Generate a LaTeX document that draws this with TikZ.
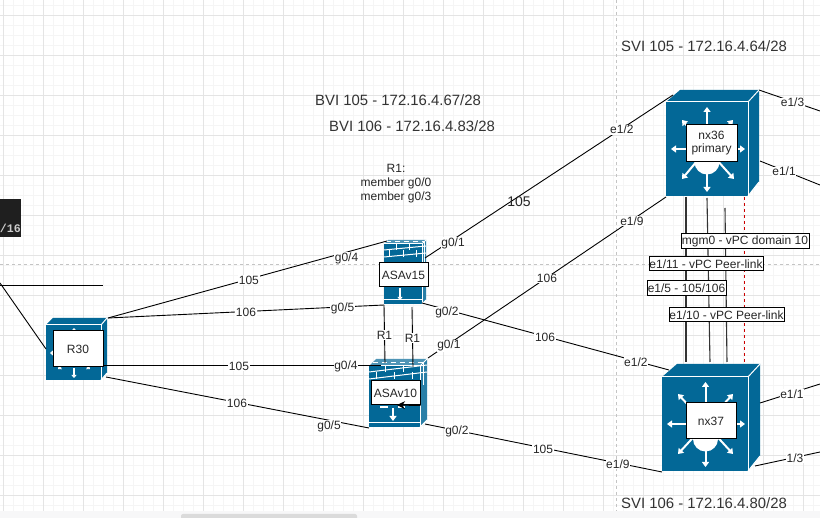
\documentclass[tikz,border=0pt]{standalone}
\usepackage{fontspec}
\setmainfont{Liberation Sans}
\newfontfamily\termfont{Liberation Mono}
\usetikzlibrary{arrows.meta}
\definecolor{iconblue}{HTML}{036897}
\definecolor{gridmajor}{HTML}{E4E4E4}
\definecolor{gridminor}{HTML}{F5F5F5}
\definecolor{pageline}{HTML}{C4C4C4}
\tikzset{
  wire/.style={draw=black, line width=.9pt},
  hitbox/.style={rectangle, inner sep=0pt, outer sep=0pt},
  namebox/.style={rectangle, draw=black, fill=white, line width=1pt, inner sep=0pt, align=center, font=\fontsize{12}{14}\selectfont, text=black!85},
  portlabel/.style={fill=white, inner sep=.6pt, yshift=-1pt, font=\fontsize{12}{13}\selectfont, text=black!85},
  plaintext/.style={inner sep=0pt, align=center, font=\fontsize{12}{14}\selectfont, text=black!85},
  title/.style={inner sep=0pt, anchor=west, font=\fontsize{14.9}{16}\selectfont, text=black!80},
  flow/.style={draw=white, line width=2pt, -{Triangle[length=5pt,width=7pt]}},
  smallflow/.style={draw=white, line width=1.2pt, -{Triangle[length=3pt,width=5pt]}},
  mortar/.style={draw=white, line width=1pt},
}
% x1 y1 x2 y2 dx dy, front face and its depth
\newcommand{\cubeicon}[6]{
  \fill[iconblue] (#1,#2) rectangle (#3,#4);
  \fill[iconblue] (#1,#2) -- (#1+#5,#2-#6) -- (#3+#6-1,#2-#6) -- (#3,#2) -- cycle;
  \fill[iconblue] (#3,#2) -- (#3+#6-1,#2-#6) -- (#3+#6-1,#4-#6-#5+#6) -- (#3,#4) -- cycle;
  \draw[mortar] (#1,#2) -- (#3,#2) -- (#3,#4);
  \draw[mortar] (#3,#2) -- (#3+#6-1,#2-#6);
  \draw[mortar] (#3,#4) -- (#3+#6-1,#4-#6-#5+#6);
}
% x1 x2 ytop ybottom depth
\newcommand{\wallicon}[5]{
  \fill[iconblue] (#1,#3) rectangle (#2,#4);
  \fill[iconblue!70] (#1,#3) -- (#1+#5,#3-#5) -- (#2+#5,#3-#5) -- (#2,#3) -- cycle;
  \fill[iconblue!85] (#2,#3) -- (#2+#5,#3-#5) -- (#2+#5,#4-#5) -- (#2,#4) -- cycle;
  \draw[mortar] (#1,#3) -- (#2,#3) -- (#2,#4);
  \draw[mortar] (#2,#3) -- (#2+#5,#3-#5);
  \draw[mortar] (#2,#4) -- (#2+#5,#4-#5);
  \draw[mortar] (#1,#3+6) -- (#2+#5,#3+6-#5);
  \draw[mortar] (#1,#3+13) -- (#2+#5,#3+13-#5);
  \draw[mortar] (#1,#4-4) -- (#2,#4-4);
  \draw[mortar, dashed, dash pattern=on 5pt off 4pt] (#1+.5*#5,#3-.5*#5) -- (#2+.5*#5,#3-.5*#5);
  \foreach \f in {.33,.68} \draw[mortar] ({#1+\f*(#2-#1)},#3) -- ({#1+\f*(#2-#1)},#3+6);
  \foreach \f in {.15,.5,.85} \draw[mortar] ({#1+\f*(#2-#1)},#3+6) -- ({#1+\f*(#2-#1)},#3+13);
  \draw[draw=white, line width=.8pt] (#2+.5*#5,#3-.5*#5) -- (#2+.5*#5,#3+19);
}
\begin{document}
\begin{tikzpicture}[x=1pt,y=-1pt]
\useasboundingbox (0,0) rectangle (820,518);
% grid
\fill[white] (0,0) rectangle (820,518);
\foreach \gx in {3,13,...,813} \draw[gridminor, line width=1pt] (\gx.5,0) -- (\gx.5,511);
\foreach \gy in {5,15,...,505} \draw[gridminor, line width=1pt] (0,\gy.5) -- (820,\gy.5);
\foreach \gx in {3,43,...,803} \draw[gridmajor, line width=1pt] (\gx.5,0) -- (\gx.5,511);
\foreach \gy in {15,55,...,495} \draw[gridmajor, line width=1pt] (0,\gy.5) -- (820,\gy.5);
\draw[pageline, dashed, line width=.8pt] (616.5,0) -- (616.5,511);
\draw[pageline, dashed, line width=.8pt] (0,264.5) -- (820,264.5);
\fill[blue!2!gray!6] (0,511) rectangle (820,518);
\fill[black!14, rounded corners=2pt] (181,514) rectangle (357,520);
\fill[black!88] (0,199) rectangle (21,237);
\node (cidr) [inner sep=0pt, anchor=east, text=black!20, font=\termfont\bfseries\fontsize{11.6}{14}\selectfont] at (21,228) {/16};

% device areas
\node (r30) [hitbox, minimum width=62pt, minimum height=62pt] at (77,349) {};
\node (asa15) [hitbox, minimum width=42pt, minimum height=65pt] at (405,272.5) {};
\node (asa10) [hitbox, minimum width=58pt, minimum height=68pt] at (398,393) {};
\node (nx36) [hitbox, minimum width=93pt, minimum height=106pt] at (712.5,143) {};
\node (nx37) [hitbox, minimum width=97pt, minimum height=107pt] at (710.5,417.5) {};

% free ends
\coordinate (leftA) at (0,285);
\coordinate (leftAend) at (103,285);
\coordinate (leftB) at (0,283);
\coordinate (rightA) at (820,111);
\coordinate (rightB) at (820,185);
\coordinate (rightC) at (820,384);
\coordinate (rightD) at (820,452);

% icons
\cubeicon{46}{325}{101}{380}{7}{7}
\foreach \tx/\ty/\hx/\hy in {74/333/74/328, 74/368/74/378, 54/353/50/353, 62/366/58/369, 86/366/90/369}
  \draw[smallflow] (\tx,\ty) -- (\hx,\hy);
\cubeicon{666}{102}{748}{196}{14}{12}
\foreach \hx/\hy in {707/107, 707/192, 671/149, 745/149, 682/179, 734/179, 682/120, 733/120}
  \draw[flow] (707,149) -- (\hx,\hy);
\fill[white] (707,162) circle (12.5);
\cubeicon{662}{377}{748}{471}{15}{13}
\foreach \hx/\hy in {705.5/382, 705.5/467, 667/424, 745/424, 678/454, 733/454, 678/394, 733/394}
  \draw[flow] (705.5,424) -- (\hx,\hy);
\fill[white] (705.5,439) circle (12.5);
\wallicon{384}{422}{244}{304}{4}
\draw[smallflow] (400,288) -- (400,300);
\wallicon{369}{420}{366}{427}{7}
\draw[flow] (393,408) -- (393,421);
\draw[mortar, line width=2pt] (380,407) -- (388,407);
\draw[mortar, line width=2pt] (398,407) -- (405,407);

% links
\draw[wire] (r30.north east) -- node[portlabel, pos=.505] {105} node[portlabel, pos=.855, yshift=-5pt] {g0/4} ([shift={(3,1)}]asa15.north west);
\draw[wire] (r30.north east) -- node[portlabel, pos=.5] {106} node[portlabel, pos=.85] {g0/5} (asa15.south west);
\draw[wire] ([shift={(-5,16)}]r30.east) -- node[portlabel, pos=.489] {105} node[portlabel, pos=.874] {g0/4} ([shift={(12,6)}]asa10.north west);
\draw[wire] ([shift={(-2,-3)}]r30.south east) -- node[portlabel, pos=.498] {106} node[portlabel, pos=.848, yshift=-5pt] {g0/5} ([shift={(0,1)}]asa10.south west);
\draw[wire] ([shift={(-1,18)}]asa15.north east) -- node[portlabel, pos=.113, yshift=-3pt] {g0/1} node[inner sep=0pt, pos=.379, yshift=-5pt, font=\fontsize{14}{16}\selectfont, text=black!85] {105} node[portlabel, pos=.794] {e1/2} ([shift={(7,5)}]nx36.north west);
\draw[wire] ([shift={(-4,-2)}]asa15.south east) -- node[portlabel, pos=.101, yshift=-2pt] {g0/2} node[portlabel, pos=.498] {106} node[portlabel, pos=.866] {e1/2} ([shift={(7,6)}]nx37.north west);
\draw[wire] ([shift={(1,-1)}]asa10.north east) -- node[portlabel, pos=.088, yshift=-1pt] {g0/1} node[portlabel, pos=.5] {106} node[portlabel, pos=.857] {e1/9} ([shift={(0,1)}]nx36.south west);
\draw[wire] ([shift={(-2,-3)}]asa10.south east) -- node[portlabel, pos=.135] {g0/2} node[portlabel, pos=.498] {105} node[portlabel, pos=.814] {e1/9} ([shift={(0,1)}]nx37.south west);
\draw[wire] (nx36.north east) -- node[portlabel, pos=.55] {e1/3} (rightA);
\draw[wire] ([shift={(1,18)}]nx36.east) -- node[portlabel, pos=.4] {e1/1} (rightB);
\draw[wire] ([shift={(1,-14.5)}]nx37.east) -- node[portlabel, pos=.533] {e1/1} (rightC);
\draw[wire] ([shift={(-4,-5)}]nx37.south east) -- node[portlabel, pos=.615] {1/3} (rightD);
\draw[wire] (leftA) -- (leftAend);
\draw[wire] (leftB) -- (r30.west);
\draw[wire] (asa15.south west) -- node[portlabel, pos=.5] {R1} ([shift={(-13,4)}]asa10.north);
\draw[wire] ([shift={(7,2)}]asa15.south) -- node[portlabel, pos=.5] {R1} ([shift={(15,8)}]asa10.north);
\draw[wire, black!80, line width=1.1pt] ([shift={(-26.5,1)}]nx36.south) -- ([shift={(-24.5,-2)}]nx37.north);
\draw[wire, black!80, line width=1.1pt] ([shift={(-5.5,2)}]nx36.south) -- ([shift={(-.5,-2)}]nx37.north);
\draw[wire, black!80, line width=1.1pt] ([shift={(12.5,12)}]nx36.south) -- ([shift={(16.5,-2)}]nx37.north);
\draw[red!80!black, dashed, line width=.7pt] ([shift={(32,1)}]nx36.south) -- ([shift={(34,-2)}]nx37.north);

% name boxes
\node (R30) [namebox, minimum width=50pt, minimum height=36pt] at (78,349) {R30};
\node (ASAv15) [namebox, minimum width=49pt, minimum height=24pt] at (403.5,275) {ASAv15};
\node (ASAv10) [namebox, minimum width=49pt, minimum height=24pt] at (395.5,393) {ASAv10};
\coordinate (backtip) at (397,405);
\draw[-{Stealth[length=8pt,width=8pt]}, line width=1pt] (ASAv10.south east) -- (backtip);
\node (nx36name) [namebox, minimum width=51pt, minimum height=37pt] at (711.5,143.5) {nx36\\[-1pt]primary};
\node (nx37name) [namebox, minimum width=50pt, minimum height=36pt] at (711,421) {nx37};
\node (mgm) [namebox, minimum width=128pt, minimum height=15pt] at (745,241.5) {mgm0 - vPC domain 10};
\node (peerA) [namebox, minimum width=114pt, minimum height=14pt] at (706,264) {e1/11 - vPC Peer-link};
\node (trunk) [namebox, minimum width=79pt, minimum height=15pt] at (686.5,288.5) {e1/5 - 105/106};
\node (peerB) [namebox, minimum width=115pt, minimum height=14pt] at (726.5,315) {e1/10 - vPC Peer-link};

% addresses
\node (svi105) [title] at (621,46) {SVI 105 - 172.16.4.64/28};
\node (bvi105) [title] at (315,100) {BVI 105 - 172.16.4.67/28};
\node (bvi106) [title] at (329,126) {BVI 106 - 172.16.4.83/28};
\node (svi106) [title] at (621,503) {SVI 106 - 172.16.4.80/28};
\node (members) [plaintext] at (396,184) {R1:\\member g0/0\\member g0/3};
\end{tikzpicture}
\end{document}
